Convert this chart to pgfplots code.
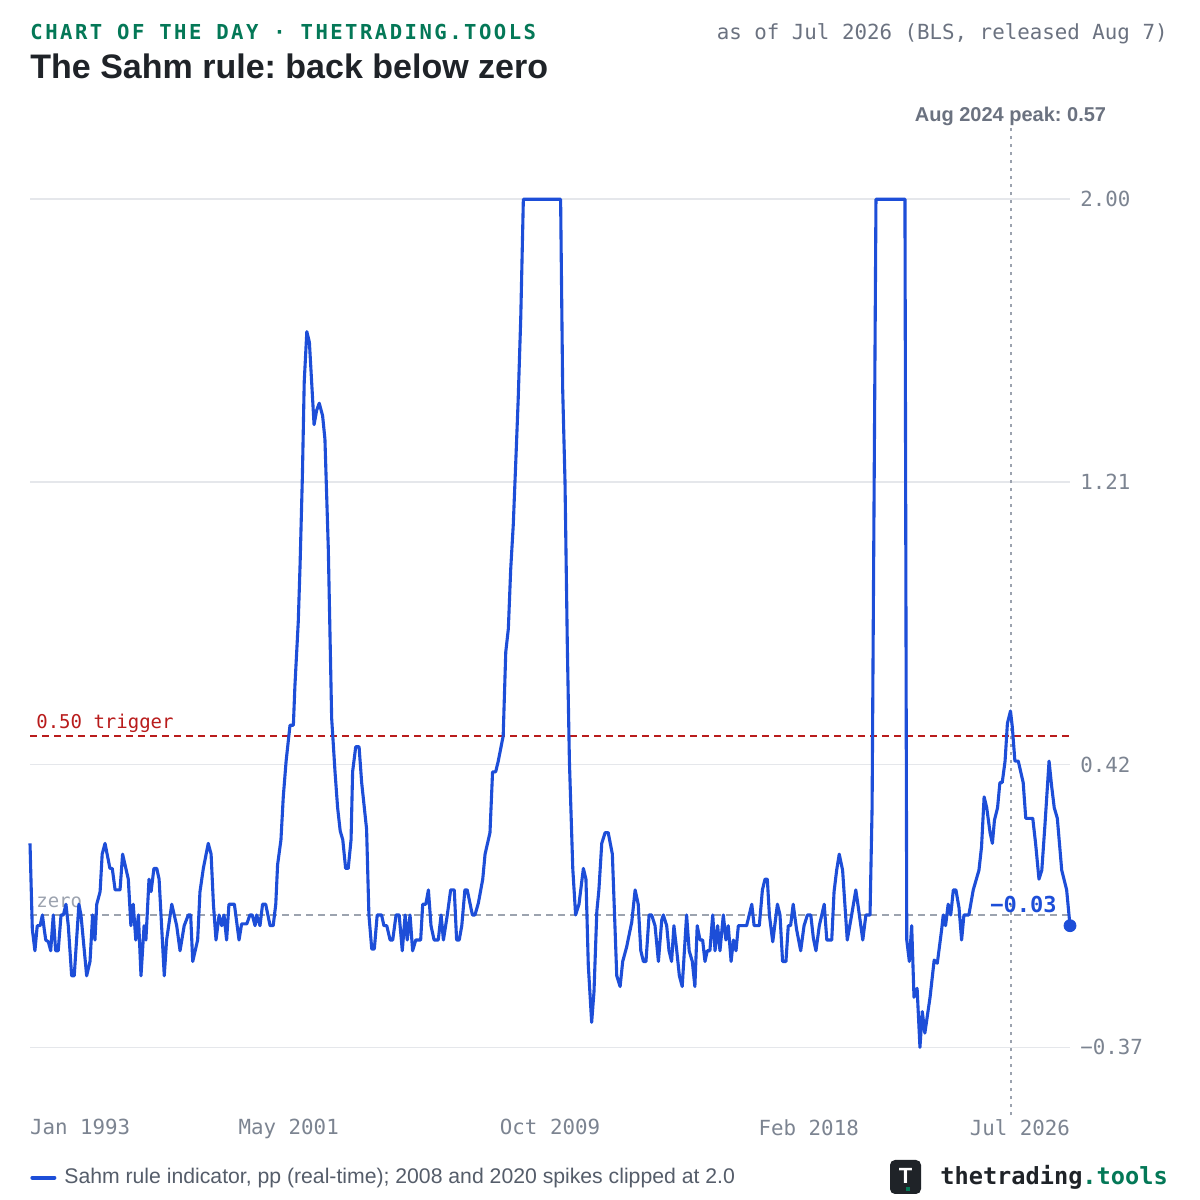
\documentclass[border=0pt]{standalone}
\usepackage{fontspec}
\setmainfont{Liberation Sans}
\setmonofont{DejaVu Sans Mono}
\newfontfamily\headfont{DejaVu Sans Mono}[LetterSpace=12]
\usepackage{pgfplots}
\pgfplotsset{compat=1.18}
\definecolor{blueline}{HTML}{1D4ED8}
\definecolor{headgreen}{HTML}{047857}
\definecolor{titledark}{HTML}{1F2328}
\definecolor{txtgray}{HTML}{6B7280}
\definecolor{tickgray}{HTML}{7C8491}
\definecolor{gridgray}{HTML}{E5E7EB}
\definecolor{trig}{HTML}{B91C1C}
\definecolor{zerogray}{HTML}{9CA3AF}
\definecolor{leggray}{HTML}{555D6A}
\frenchspacing
\begin{document}
\begin{tikzpicture}[x=1pt,y=1pt]
\path[use as bounding box, fill=white] (0,0) rectangle (600,600);
\node[anchor=base west, inner sep=0pt, text=headgreen, font=\headfont\bfseries\fontsize{10.3}{12}\selectfont] at (15,580) {CHART OF THE DAY · THETRADING.TOOLS};
\node[anchor=base east, inner sep=0pt, text=txtgray, font=\ttfamily\fontsize{10.4}{12}\selectfont] at (584,580) {as of Jul 2026 (BLS, released Aug 7)};
\node[anchor=base west, inner sep=0pt, text=titledark, font=\bfseries\fontsize{17}{20}\selectfont] at (15,560.5) {The Sahm rule: back below zero};
\begin{axis}[
  at={(15pt,45pt)}, anchor=south west,
  width=520pt, height=491pt, scale only axis,
  xmin=0, xmax=402, ymin=-0.545, ymax=2.199,
  axis line style={draw=none},
  major tick length=0pt,
  clip=false,
  ytick={-0.37,0.42,1.21,2.00},
  yticklabels={−0.37,0.42,1.21,2.00},
  yticklabel pos=right,
  yticklabel style={anchor=west, inner sep=0pt, xshift=5pt, font=\ttfamily\fontsize{10.4}{12}\selectfont, text=tickgray},
  ymajorgrids, grid style={draw=gridgray, line width=0.8pt},
  xtick={0,100,201,301,402},
  xticklabels={\makebox[0pt][l]{Jan 1993}, May 2001, Oct 2009, Feb 2018, \makebox[0pt][r]{Jul 2026}},
  xticklabel style={anchor=north, inner sep=0pt, yshift=-4.5pt, font=\ttfamily\fontsize{10.4}{12}\selectfont, text=tickgray},
  legend style={at={(0,-0.069)}, anchor=west, draw=none, fill=none, inner sep=0pt, font=\fontsize{10.6}{12}\selectfont, text=leggray},
  legend cell align=left,
  legend image code/.code={\draw[line width=2pt, line cap=round, draw=blueline] (1pt,0pt) -- (12pt,0pt);},
]
\addplot[forget plot, draw=zerogray, line width=1pt, dash pattern=on 1.5pt off 2.5pt] coordinates {(379,-0.56) (379,2.199)};
\addplot[forget plot, draw=zerogray, line width=0.9pt, dash pattern=on 3.5pt off 2.5pt] coordinates {(0,0) (402,0)};
\addplot[forget plot, draw=trig, line width=0.8pt, dash pattern=on 3.5pt off 2.5pt] coordinates {(0,0.5) (402,0.5)};
\node[anchor=base west, inner sep=0pt, text=trig, font=\ttfamily\fontsize{9.5}{11}\selectfont] at (axis cs:2.3,0.522) {0.50 trigger};
\node[anchor=base west, inner sep=0pt, text=zerogray, font=\ttfamily\fontsize{9.5}{11}\selectfont] at (axis cs:2.3,0.022) {zero};
\node[anchor=base, inner sep=0pt, text=txtgray, font=\bfseries\fontsize{10}{12}\selectfont] at (axis cs:379,2.216) {Aug 2024 peak: 0.57};
\addplot[draw=blueline, line width=1.55pt, line join=round] coordinates {
(0,0.20) (0.9,-0.04) (1.9,-0.10) (2.8,-0.03) (3.9,-0.03) (4.8,0.0) (5.5,-0.04) (6.1,-0.07) (7.1,-0.075) (8.0,-0.10) (9.0,0) (9.9,-0.10) (10.9,-0.10) (12.0,0) (12.9,0) (13.9,0.03) (14.8,-0.03) (16.1,-0.17) (17.1,-0.17) (18.9,0.03) (19.7,0) (21.9,-0.17) (23.2,-0.13) (24.2,0) (25.1,-0.07) (25.8,0.03) (27.1,0.065) (27.9,0.17) (29.0,0.20) (30.9,0.13) (31.8,0.13) (32.9,0.07) (34.8,0.07) (35.8,0.17) (38.0,0.10) (39.0,-0.03) (39.9,0.03) (40.9,-0.07) (41.9,0) (42.9,-0.17) (44.1,-0.03) (44.8,-0.07) (46.0,0.10) (46.8,0.065) (47.9,0.13) (49.0,0.13) (49.9,0.10) (51.9,-0.17) (52.8,-0.07) (54.8,0.03) (56.7,-0.03) (58.0,-0.10) (59.6,-0.03) (61.2,0) (62.1,0) (62.9,-0.13) (64.8,-0.07) (65.7,0.065) (67.0,0.13) (68.9,0.20) (70.0,0.17) (70.9,0.03) (71.9,-0.07) (73.1,0) (74.1,-0.03) (75.0,0)
(76.0,-0.07) (76.9,0.03) (79.0,0.03) (80.8,-0.07) (81.8,-0.025) (83.8,-0.025) (85.0,0) (85.9,0) (87.0,-0.03) (87.6,0) (88.9,-0.03) (89.9,0.03) (91.1,0.03) (92.8,-0.03) (94.0,-0.03) (95.0,0.03) (95.7,0.14) (97.0,0.21) (97.9,0.33) (99.0,0.43) (100.5,0.53) (101.8,0.53) (102.4,0.64) (103.7,0.82) (104.4,0.98) (105.3,1.23) (106.0,1.49) (107.0,1.63) (108.0,1.60) (109.8,1.37) (110.8,1.41) (111.8,1.43) (113.1,1.395) (114.0,1.33) (115.3,1.025) (116.6,0.55) (117.9,0.40) (118.9,0.30) (119.9,0.235) (120.9,0.21) (122.0,0.13) (123.0,0.13) (124.1,0.21) (124.7,0.40) (125.9,0.47) (127.2,0.47) (128.2,0.37) (130.1,0.24) (131.0,0.0) (132.1,-0.095) (133.1,-0.095) (134.2,0) (135.9,0) (136.8,-0.03) (137.9,-0.03) (139.2,-0.07) (140.2,-0.07) (141.5,0) (142.7,0) (143.9,-0.10) (145.0,0) (145.8,-0.07) (146.9,0) (147.9,-0.10) (149.1,-0.07) (151.0,-0.07) (151.8,0.03) (153.0,0.03) (154.0,0.07) (155.0,-0.03) (156.2,-0.07) (157.8,-0.07) (158.9,0) (159.8,-0.07) (161.3,0) (162.6,0.07) (164.0,0.07) (164.9,-0.07) (165.9,-0.07) (166.9,-0.03) (168.1,0.07) (169.0,0.07) (171.0,0) (172.0,0) (173.3,0.033) (175.0,0.10) (175.9,0.17) (177.8,0.23) (178.8,0.40) (180.0,0.40) (181.0,0.43) (182.9,0.50) (183.9,0.735) (184.9,0.80) (185.8,0.965) (186.8,1.09) (187.9,1.29) (188.7,1.44) (189.7,1.67) (190.7,2.00) (205.1,2.00) (205.9,1.47) (206.8,1.21) (207.7,0.75) (208.5,0.43) (209.8,0.13) (210.9,0.0) (212.2,0.03) (213.9,0.13) (214.9,0.10) (215.8,-0.14) (217.1,-0.30) (218.0,-0.215) (219.1,0.01) (219.9,0.07) (221.0,0.20) (222.3,0.23) (223.5,0.23) (225.1,0.17) (226.8,-0.17) (228.1,-0.20) (229.1,-0.13) (230.6,-0.09) (232.6,-0.02) (233.9,0.07) (235.1,0.03) (236.1,-0.10) (237.1,-0.13) (238.1,-0.13) (239.3,0) (240.3,0) (241.6,-0.03) (242.9,-0.13) (244.2,-0.014) (244.8,0) (246.1,-0.03) (247.0,-0.10) (248.0,-0.13) (248.9,-0.03) (250.0,-0.10) (251.0,-0.17) (252.1,-0.20) (253.8,0) (254.8,-0.10) (256.0,-0.13) (257.0,-0.20) (257.9,-0.03) (259.0,-0.07) (260.0,-0.07) (260.9,-0.13) (261.8,-0.10) (262.8,-0.10) (263.9,0) (264.8,-0.10) (265.8,-0.03) (266.7,-0.10) (268.0,0) (269.0,-0.07) (269.9,-0.03) (271.0,-0.13) (271.9,-0.07) (272.9,-0.10) (273.8,-0.03) (277.0,-0.03) (279.0,0.03) (279.9,-0.03) (281.9,-0.03) (283.1,0.07) (284.1,0.10) (285.0,0.10) (285.8,0) (287.1,-0.075) (288.9,0.03) (289.9,0) (290.9,-0.13) (292.2,-0.13) (293.1,-0.03) (294.0,-0.03) (295.0,0.03) (296.3,-0.04) (297.9,-0.10) (299.2,-0.03) (300.5,0) (301.8,0) (302.8,-0.065) (303.8,-0.10) (305.1,-0.03) (307.0,0.03) (308.0,-0.07) (309.9,-0.07) (310.8,0.065) (311.8,0.125) (312.8,0.17) (314.1,0.125) (315.9,-0.07) (317.6,0) (319.2,0.07) (320.2,0.02) (321.9,-0.07) (323.1,0) (324.7,0) (325.5,0.30) (327.0,2.00) (338.2,2.00) (338.9,-0.07) (339.9,-0.13) (340.8,-0.03) (341.7,-0.23) (342.9,-0.205) (344.0,-0.37) (344.9,-0.27) (345.9,-0.33) (347.9,-0.23) (349.5,-0.126) (350.7,-0.135) (352.4,-0.04) (353.0,0) (353.9,-0.03) (354.9,0.03) (355.9,0) (356.9,0.07) (357.9,0.07) (359.1,0.02) (360.1,-0.07) (361.0,0) (362.9,0) (364.6,0.07) (366.8,0.125) (367.8,0.19) (368.8,0.33) (369.8,0.30) (371.1,0.23) (372.0,0.20) (372.8,0.265) (374.0,0.30) (374.9,0.37) (375.8,0.37) (376.9,0.43) (377.8,0.535) (379.0,0.57) (379.7,0.525) (380.7,0.43) (382.0,0.43) (383.9,0.37) (384.9,0.27) (387.6,0.27) (388.7,0.20) (390.0,0.10) (391.1,0.125) (392.3,0.25) (393.9,0.43) (394.9,0.36) (395.9,0.30) (397.1,0.27) (398.8,0.125) (400.7,0.07) (402.0,-0.03)
};
\addlegendentry{\hspace{2pt}Sahm rule indicator, pp (real-time); 2008 and 2020 spikes clipped at 2.0}
\addplot[forget plot, only marks, mark=*, mark size=3pt, color=blueline] coordinates {(402,-0.03)};
\node[anchor=base east, inner sep=0pt, text=blueline, font=\ttfamily\bfseries\fontsize{11}{13}\selectfont] at (axis cs:397,0.006) {−0.03};
\end{axis}
\fill[titledark, rounded corners=2.5pt] (445,3) rectangle (460.5,20);
\node[text=white, font=\bfseries\fontsize{11}{12}\selectfont, inner sep=0pt] at (452.75,12) {T};
\fill[headgreen] (453.2,4.6) rectangle (455.2,6.6);
\node[anchor=base west, inner sep=0pt, font=\ttfamily\bfseries\fontsize{11.8}{14}\selectfont] at (470,8) {\textcolor{titledark}{thetrading}\textcolor{headgreen}{.tools}};
\end{tikzpicture}
\end{document}
